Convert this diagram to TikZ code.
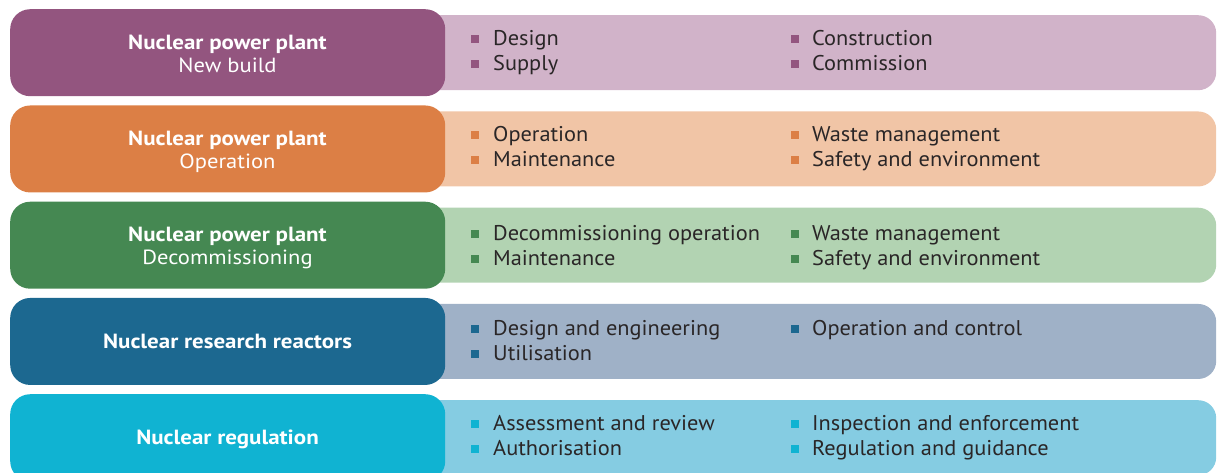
\documentclass[tikz,border=0pt]{standalone}
\usepackage{fontspec}
\setmainfont{PT Sans}
\newfontfamily\itemfont[FakeStretch=1.05]{PT Sans}
\newfontfamily\headfont[FakeStretch=1.1]{PT Sans}
\newfontfamily\headbfont[FakeStretch=1.12]{PT Sans Bold}
\definecolor{pD}{HTML}{93557F}\definecolor{pL}{HTML}{D1B3C9}
\definecolor{oD}{HTML}{DC7F45}\definecolor{oL}{HTML}{F1C5A6}
\definecolor{gD}{HTML}{458852}\definecolor{gL}{HTML}{B2D3B2}
\definecolor{bD}{HTML}{1C6890}\definecolor{bL}{HTML}{9FB1C7}
\definecolor{cD}{HTML}{10B3D2}\definecolor{cL}{HTML}{85CCE2}
\definecolor{itemtext}{HTML}{2A2627}
\newcommand\plrow[3]{%
  \node[lightbox, fill=#3L] (#1l) at (420,#2+6) {};
  \node[darkbox, fill=#3D] (#1d) at (10,#2) {};
}
\newcommand\plitem[6]{%
  \node[bul, fill=#5] (#1b) at (#2,#4-6.5) {};
  \node[itemnode] (#1) at (#3,#4) {#6};
}
\begin{document}
\begin{tikzpicture}[x=1pt,y=-1pt,
  lightbox/.style={rounded corners=18pt, inner sep=0pt, minimum width=796pt, minimum height=75pt, anchor=north west, draw=none},
  darkbox/.style={rounded corners=20pt, inner sep=0pt, minimum width=435pt, minimum height=87pt, anchor=north west, draw=none},
  bul/.style={inner sep=0pt, minimum size=8pt, draw=none},
  itemnode/.style={anchor=base west, inner sep=0pt, text=itemtext, font=\itemfont\fontsize{21.3}{24}\selectfont},
  headb/.style={anchor=base, inner sep=0pt, text=white, font=\headbfont\fontsize{20.5}{24}\selectfont},
  headr/.style={anchor=base, inner sep=0pt, text=white, font=\headfont\fontsize{20.5}{24}\selectfont},
]
\useasboundingbox (0,0) rectangle (1217,472);
% row 1
\plrow{r1}{9}{p}
\node[headb] (h1a) at (227.5,49) {Nuclear power plant};
\node[headr] (h1b) at (227.5,72) {New build};
\plitem{i1a}{474.5}{493}{45}{pD}{Design}
\plitem{i1b}{474.5}{493}{70}{pD}{Supply}
\plitem{i1c}{794.5}{812}{45}{pD}{Construction}
\plitem{i1d}{794.5}{812}{70}{pD}{Commission}
% row 2
\plrow{r2}{105.25}{o}
\node[headb] (h2a) at (227.5,145.25) {Nuclear power plant};
\node[headr] (h2b) at (227.5,168.25) {Operation};
\plitem{i2a}{474.5}{493}{141.25}{oD}{Operation}
\plitem{i2b}{474.5}{493}{166.25}{oD}{Maintenance}
\plitem{i2c}{794.5}{812}{141.25}{oD}{Waste management}
\plitem{i2d}{794.5}{812}{166.25}{oD}{Safety and environment}
% row 3
\plrow{r3}{201.5}{g}
\node[headb] (h3a) at (227.5,241.5) {Nuclear power plant};
\node[headr] (h3b) at (227.5,264.5) {Decommissioning};
\plitem{i3a}{474.5}{493}{240}{gD}{Decommissioning operation}
\plitem{i3b}{474.5}{493}{265}{gD}{Maintenance}
\plitem{i3c}{794.5}{812}{240}{gD}{Waste management}
\plitem{i3d}{794.5}{812}{265}{gD}{Safety and environment}
% row 4
\plrow{r4}{297.75}{b}
\node[headb] (h4a) at (227.5,348.5) {Nuclear research reactors};
\plitem{i4a}{474.5}{493}{335}{bD}{Design and engineering}
\plitem{i4b}{474.5}{493}{360}{bD}{Utilisation}
\plitem{i4c}{794.5}{812}{335}{bD}{Operation and control}
% row 5
\plrow{r5}{394}{c}
\node[headb] (h5a) at (227.5,444) {Nuclear regulation};
\plitem{i5a}{474.5}{493}{430}{cD}{Assessment and review}
\plitem{i5b}{474.5}{493}{455}{cD}{Authorisation}
\plitem{i5c}{794.5}{812}{430}{cD}{Inspection and enforcement}
\plitem{i5d}{794.5}{812}{455}{cD}{Regulation and guidance}
\end{tikzpicture}
\end{document}
